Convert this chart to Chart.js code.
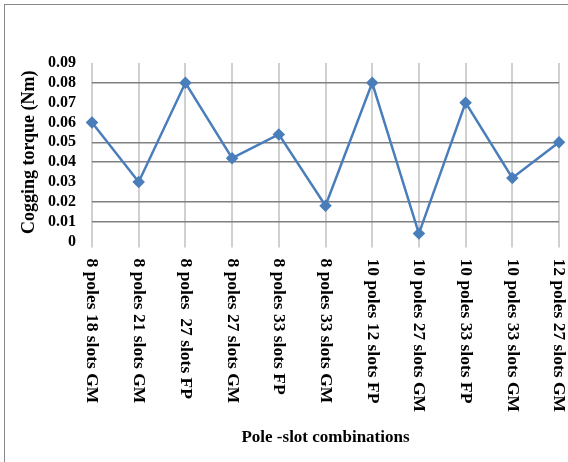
<!DOCTYPE html>
<html>
<head>
<meta charset="utf-8">
<script src="https://cdn.jsdelivr.net/npm/chart.js@4"></script>
<style>
  html, body { margin: 0; padding: 0; background: #fff; }
  #wrap { position: relative; width: 568px; height: 462px; }
  #frame { position: absolute; left: 4px; top: 4px; right: 0; bottom: 0;
           border-left: 1px solid #8a8a8a; border-top: 1px solid #8a8a8a; }
  canvas { position: absolute; left: 0; top: 0; }
</style>
</head>
<body>
<div id="wrap">
  <div id="frame"></div>
  <canvas id="torqueChart" width="568" height="462"></canvas>
</div>
<script>
const combos = [
  "8 poles 18 slots GM", "8 poles 21 slots GM", "8 poles  27 slots FP",
  "8 poles 27 slots GM", "8 poles 33 slots FP", "8 poles 33 slots GM",
  "10 poles 12 slots FP", "10 poles 27 slots GM", "10 poles 33 slots FP",
  "10 poles 33 slots GM", "12 poles 27 slots GM"
];
const torque = [0.06, 0.03, 0.08, 0.042, 0.054, 0.018, 0.08, 0.004, 0.07, 0.032, 0.05];
const yTicks = ["0", "0.01", "0.02", "0.03", "0.04", "0.05", "0.06", "0.07", "0.08", "0.09"];

// gridlines that survive in the scanned figure
const visibleGrid = [1, 2, 4, 5, 8];

const serif = "'Liberation Serif', 'Times New Roman', serif";

// x labels read top-to-bottom, so draw them by hand
const verticalLabels = {
  id: "verticalLabels",
  afterDraw(chart) {
    const ctx = chart.ctx;
    const x = chart.scales.x;
    ctx.save();
    ctx.font = "bold 17.5px " + serif;
    ctx.fillStyle = "#000";
    ctx.textAlign = "left";
    ctx.textBaseline = "middle";
    combos.forEach((label, i) => {
      ctx.save();
      ctx.translate(x.getPixelForValue(i), chart.chartArea.bottom + 17);
      ctx.rotate(Math.PI / 2);
      ctx.fillText(label, 0, 0);
      ctx.restore();
    });
    ctx.restore();
  }
};

new Chart(document.getElementById("torqueChart"), {
  type: "line",
  data: {
    labels: combos,
    datasets: [{
      label: "Cogging torque",
      data: torque,
      borderColor: "#4a7ebb",
      backgroundColor: "#4a7ebb",
      borderWidth: 2.5,
      pointStyle: "rectRot",
      pointRadius: 4.5,
      tension: 0
    }]
  },
  options: {
    responsive: false,
    animation: false,
    layout: { padding: { left: 19, top: 63, right: 9, bottom: 10 } },
    plugins: {
      legend: { display: false },
      tooltip: { enabled: false }
    },
    scales: {
      x: {
        offset: false,
        grid: {
          color: "#d0d0d0",
          lineWidth: 2,
          tickLength: 6
        },
        border: { display: false },
        ticks: { display: false, autoSkip: false },
        title: {
          display: true,
          text: "Pole -slot combinations",
          color: "#000",
          font: { family: serif, size: 17, weight: "bold" },
          padding: { top: 4, bottom: 4 }
        },
        afterFit: s => { s.height = 210.5; }
      },
      y: {
        min: 0,
        max: 0.09,
        ticks: {
          stepSize: 0.01,
          autoSkip: false,
          padding: 16,
          color: "#000",
          font: { family: serif, size: 16, weight: "bold" },
          callback: (v, i) => yTicks[i]
        },
        grid: {
          drawTicks: false,
          color: c => visibleGrid.includes(c.index) ? "#808080" : "rgba(0,0,0,0)",
          lineWidth: 1.5
        },
        border: { display: false },
        title: {
          display: true,
          text: "Cogging torque (Nm)",
          color: "#000",
          font: { family: serif, size: 18, weight: "bold" },
          padding: { top: 0, bottom: 0 }
        },
        afterFit: s => { s.width = 73; }
      }
    }
  },
  plugins: [verticalLabels]
});
</script>
</body>
</html>
